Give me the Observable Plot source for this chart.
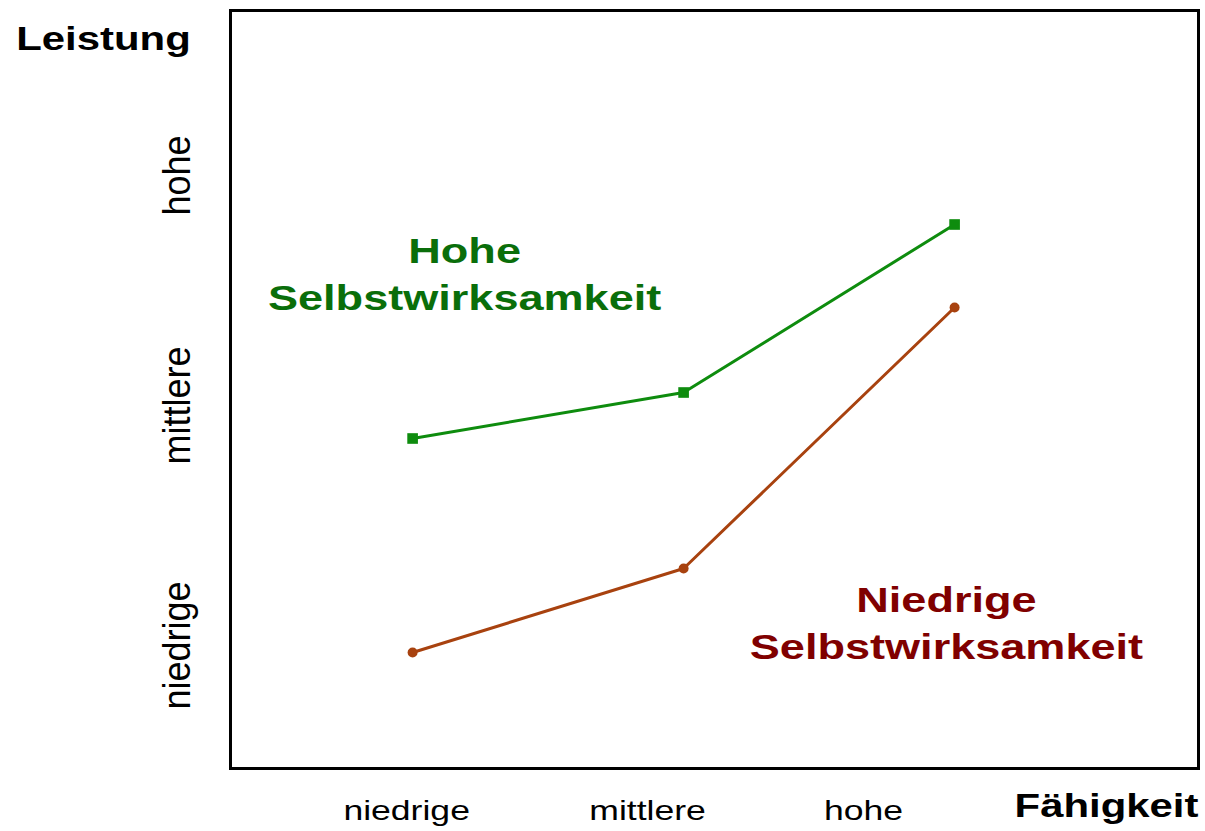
<!DOCTYPE html>
<html><head><meta charset="utf-8">
<script src="https://cdn.jsdelivr.net/npm/d3@7"></script>
<script src="https://cdn.jsdelivr.net/npm/@observablehq/plot@0.6"></script>
<style>body{margin:0;background:#fff}</style>
</head><body><div id="chart"></div>
<script>
// --- data ---
const levels = ["niedrige", "mittlere", "hohe"];
const abilityX = [1, 2, 3];
const highSE = [3.30, 3.76, 5.44];   // Hohe Selbstwirksamkeit
const lowSE = [1.16, 2.00, 4.61];    // Niedrige Selbstwirksamkeit
const xTickPos = [0.978, 1.867, 2.664];
const yTickPos = [1.23, 3.63, 5.93];
const seriesNames = ["Hohe\nSelbstwirksamkeit", "Niedrige\nSelbstwirksamkeit"];
const seriesLabelX = [1.192, 2.97];
const seriesLabelY = [4.97, 1.48];
const xLabel = "Fähigkeit";
const yLabel = "Leistung";

const green = "#0e8c0e", brown = "#a8420f";
const greenText = "#0a6e0a", brownText = "#800000";
const font = "'Liberation Sans', Arial, sans-serif";

const high = abilityX.map((x, i) => ({x, y: highSE[i]}));
const low = abilityX.map((x, i) => ({x, y: lowSE[i]}));

const chart = Plot.plot({
  width: 1205, height: 831,
  marginLeft: 230, marginRight: 7, marginTop: 10, marginBottom: 63,
  x: {type: "linear", domain: [0.328, 3.900], axis: null},
  y: {type: "linear", domain: [0, 7.58], axis: null},
  style: {fontFamily: font, background: "white", color: "black"},
  marks: [
    Plot.frame({stroke: "black", strokeWidth: 3}),
    Plot.line(high, {x: "x", y: "y", stroke: green, strokeWidth: 3}),
    Plot.line(low, {x: "x", y: "y", stroke: brown, strokeWidth: 3}),
    Plot.dot(high, {x: "x", y: "y", symbol: "square", r: 6, fill: green, stroke: "none"}),
    Plot.dot(low, {x: "x", y: "y", symbol: "circle", r: 5, fill: brown, stroke: "none"}),
    Plot.text(seriesNames, {x: seriesLabelX, y: seriesLabelY, text: d => d, fill: [greenText, brownText],
      fontSize: 35.5, fontWeight: "bold", lineHeight: 1.32, textAnchor: "middle", lineAnchor: "middle", ariaLabel: () => "stretch-series"}),
    Plot.text(levels, {x: xTickPos, text: d => d, frameAnchor: "bottom", dy: 43, fontSize: 28,
      textAnchor: "middle", lineAnchor: "middle", fill: "black", ariaLabel: () => "stretch-xtick"}),
    Plot.text(levels, {y: yTickPos, text: d => d, frameAnchor: "left", dx: -53, rotate: -90, fontSize: 36,
      textAnchor: "middle", lineAnchor: "middle", fill: "black", ariaLabel: () => "stretch-ytick"}),
    Plot.text([yLabel], {text: d => d, frameAnchor: "top-left", dx: -127, dy: 29, fontSize: 33, fontWeight: "bold",
      textAnchor: "middle", lineAnchor: "middle", fill: "black", ariaLabel: () => "stretch-label"}),
    Plot.text([xLabel], {text: d => d, frameAnchor: "bottom-right", dx: -92, dy: 38, fontSize: 33, fontWeight: "bold",
      textAnchor: "middle", lineAnchor: "middle", fill: "black", ariaLabel: () => "stretch-label"})
  ]
});
document.getElementById("chart").appendChild(chart);

// horizontal stretch of the text, as in the (horizontally stretched) reference
const ns = "http://www.w3.org/2000/svg";
const stretch = {"stretch-series": 1.27, "stretch-xtick": 1.27, "stretch-ytick": 1.1, "stretch-label": 1.27};
Object.entries(stretch).forEach(([label, sx]) => {
  const nodes = new Set([
    ...chart.querySelectorAll(`text[aria-label="${label}"]`),
    ...chart.querySelectorAll(`g[aria-label="${label}"] text`)
  ]);
  nodes.forEach(t => {
    const r = t.getBoundingClientRect();
    const pt = chart.createSVGPoint();
    pt.x = r.left + r.width / 2; pt.y = r.top + r.height / 2;
    const p = pt.matrixTransform(t.parentNode.getScreenCTM().inverse());
    const g = document.createElementNS(ns, "g");
    g.setAttribute("transform", `translate(${p.x},${p.y}) scale(${sx},1) translate(${-p.x},${-p.y})`);
    t.parentNode.insertBefore(g, t);
    g.appendChild(t);
  });
});
</script>
</body></html>
